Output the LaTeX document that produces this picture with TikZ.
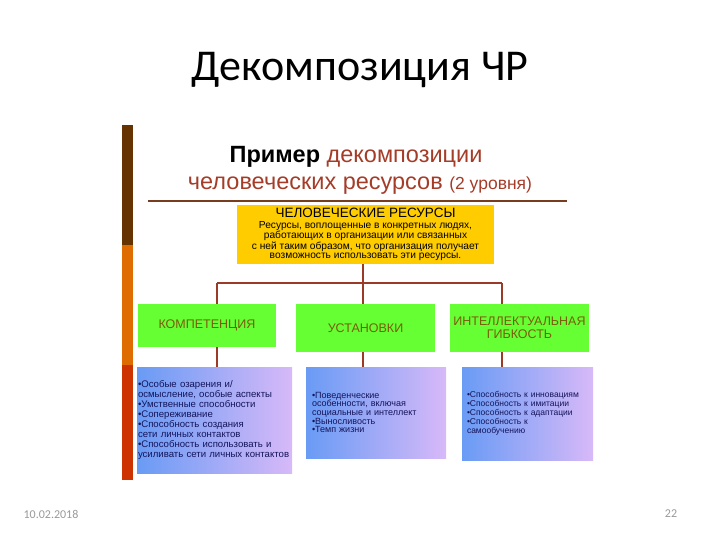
\documentclass[tikz,border=0pt]{standalone}
\usepackage{fontspec}
\setmainfont{Carlito}
\newfontfamily\arial{Liberation Sans}
\definecolor{barbrown}{RGB}{102,51,0}
\definecolor{barorange}{RGB}{222,108,0}
\definecolor{barred}{RGB}{204,51,0}
\definecolor{headred}{RGB}{165,60,40}
\definecolor{rulebrown}{RGB}{120,60,30}
\definecolor{linkred}{RGB}{155,58,38}
\definecolor{resyellow}{RGB}{255,204,0}
\definecolor{kindgreen}{RGB}{102,255,51}
\definecolor{kindtext}{RGB}{120,95,10}
\definecolor{listblue}{RGB}{105,155,245}
\definecolor{listlilac}{RGB}{215,185,248}
\definecolor{listtext}{RGB}{20,20,90}

\begin{document}
\begin{tikzpicture}[x=1pt,y=-1pt,
  link/.style={draw=linkred,line width=2.5pt},
  topbox/.style={fill=resyellow,minimum width=257pt,minimum height=59pt,inner sep=0pt,align=center,font=\arial\fontsize{10.2}{9.6}\selectfont},
  kindbox/.style={fill=kindgreen,inner sep=0pt,align=center,text=kindtext,font=\arial\fontsize{12.5}{13}\selectfont},
  listbox/.style={left color=listblue,right color=listlilac,inner ysep=0pt,align=left,text=listtext}]
  \useasboundingbox (0,0) rectangle (720,540);
  \fill[barbrown] (122,125) rectangle (133,245);
  \fill[barorange] (122,245) rectangle (133,365);
  \fill[barred] (122,365) rectangle (133,480);
  \node (title) at (360,70) {\fontsize{44}{52}\selectfont Декомпозиция ЧР};
  \node (head) at (356,157) {\arial\fontsize{23.5}{27}\selectfont\textbf{Пример} \textcolor{headred}{декомпозиции}};
  \node (head2) at (360,186) {\arial\fontsize{23.5}{27}\selectfont\textcolor{headred}{человеческих ресурсов {\fontsize{17.5}{20}\selectfont (2 уровня)}}};
  \draw[rulebrown,line width=1.2pt] (148,201) -- (567,201);
  \node[topbox] (res) at (365.5,234.5) {{\fontsize{13.5}{13}\selectfont ЧЕЛОВЕЧЕСКИЕ РЕСУРСЫ}\\[1.5pt]
    Ресурсы, воплощенные в конкретных людях,\\
    работающих в организации или связанных\\
    с ней таким образом, что организация получает\\
    возможность использовать эти ресурсы.};
  \node[kindbox,minimum width=138pt,minimum height=43pt] (comp) at (207,325.5) {КОМПЕТЕНЦИЯ};
  \node[kindbox,minimum width=139pt,minimum height=48pt] (inst) at (365.5,328) {УСТАНОВКИ};
  \node[kindbox,minimum width=139pt,minimum height=48pt] (intel) at (519.5,328) {ИНТЕЛЛЕКТУАЛЬНАЯ\\ГИБКОСТЬ};
  \node[listbox,inner xsep=1pt,text width=153pt,minimum height=106pt,font=\arial\fontsize{9.6}{10}\selectfont] (compl) at (214.5,420) {•Особые озарения и/\\
    осмысление, особые аспекты\\
    •Умственные способности\\
    •Сопереживание\\
    •Способность создания\\
    сети личных контактов\\
    •Способность использовать и\\
    усиливать сети личных контактов};
  \node[listbox,inner xsep=6pt,text width=128pt,minimum height=91pt,font=\arial\fontsize{9}{8.6}\selectfont] (instl) at (376,412.5) {•Поведенческие\\
    особенности, включая\\
    социальные и интеллект\\
    •Выносливость\\
    •Темп жизни};
  \node[listbox,inner xsep=5pt,text width=121pt,minimum height=93pt,font=\arial\fontsize{8.5}{9}\selectfont] (intell) at (527.5,413.5) {•Способность к инновациям\\
    •Способность к имитации\\
    •Способность к адаптации\\
    •Способность к\\
    самообучению};
  \coordinate (bus) at (363,283);
  \coordinate (b1) at (217,283);
  \coordinate (b3) at (502,283);
  \draw[link] (res.south -| bus) -- (bus);
  \draw[link] (b1) -- (b3);
  \draw[link] (b1) -- (b1 |- comp.north);
  \draw[link] (bus) -- (bus |- inst.north);
  \draw[link] (b3) -- (b3 |- intel.north);
  \draw[link] (b1 |- comp.south) -- (b1 |- compl.north);
  \draw[link] (bus |- inst.south) -- (bus |- instl.north);
  \draw[link] (b3 |- intel.south) -- (b3 |- intell.north);
  \node[text=black!40] (date) at (51,514) {\fontsize{12}{14}\selectfont 10.02.2018};
  \node[text=black!40] (page) at (671,514) {\fontsize{12}{14}\selectfont 22};
\end{tikzpicture}
\end{document}
